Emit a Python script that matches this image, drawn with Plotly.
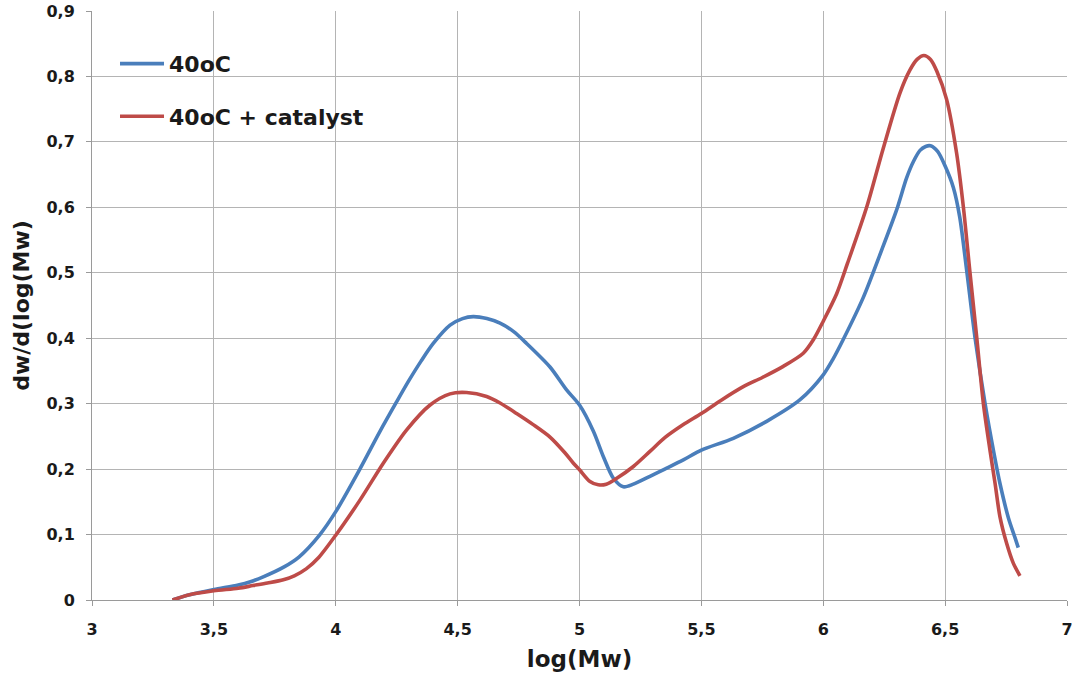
import plotly.graph_objects as go

# 40oC
x_blue = [3.33, 3.40, 3.50, 3.60, 3.65, 3.70, 3.79, 3.85, 3.935, 4.0, 4.099, 4.182, 4.25,
          4.298, 4.35, 4.40, 4.469, 4.52, 4.564, 4.62, 4.674, 4.73, 4.783, 4.879,
          4.947, 5.0, 5.057, 5.098, 5.139, 5.18, 5.221, 5.289, 5.35, 5.426, 5.5, 5.631,
          5.768, 5.905, 6.0, 6.04, 6.082, 6.164, 6.24, 6.301, 6.342, 6.37, 6.397, 6.42, 6.44,
          6.47, 6.50, 6.534, 6.56, 6.588, 6.623, 6.664, 6.70, 6.725, 6.76, 6.787, 6.80]
y_blue = [0.0, 0.008, 0.016, 0.023, 0.028, 0.035, 0.051, 0.066, 0.100, 0.135, 0.200, 0.258, 0.303,
          0.334, 0.365, 0.392, 0.420, 0.430, 0.433, 0.430, 0.423, 0.410, 0.392, 0.356,
          0.321, 0.298, 0.258, 0.219, 0.186, 0.173, 0.177, 0.189, 0.200, 0.214, 0.229, 0.247,
          0.273, 0.306, 0.344, 0.368, 0.398, 0.462, 0.535, 0.596, 0.645, 0.670, 0.687, 0.693, 0.694,
          0.685, 0.663, 0.630, 0.585, 0.505, 0.400, 0.300, 0.225, 0.178, 0.125, 0.095, 0.080]

# 40oC + catalyst
x_red = [3.33, 3.40, 3.50, 3.60, 3.66, 3.72, 3.785, 3.83, 3.88, 3.93, 4.0, 4.1, 4.195,
         4.291, 4.387, 4.469, 4.537, 4.619, 4.674, 4.742, 4.81, 4.879, 4.94,
         4.975, 5.0, 5.043, 5.077, 5.11, 5.153, 5.221, 5.289, 5.35, 5.426, 5.5, 5.58,
         5.672, 5.75, 5.836, 5.918, 5.96, 6.0, 6.055, 6.10, 6.178, 6.246, 6.315,
         6.356, 6.385, 6.413, 6.44, 6.466, 6.506, 6.547, 6.575, 6.602, 6.630, 6.657, 6.684, 6.705,
         6.725, 6.752, 6.78, 6.807]
y_red = [0.0, 0.008, 0.014, 0.018, 0.022, 0.026, 0.031, 0.037, 0.048, 0.065, 0.099, 0.153, 0.209,
         0.260, 0.298, 0.315, 0.317, 0.311, 0.301, 0.285, 0.268, 0.249, 0.225,
         0.209, 0.199, 0.181, 0.176, 0.177, 0.186, 0.204, 0.227, 0.248, 0.268, 0.285, 0.305,
         0.326, 0.340, 0.357, 0.377, 0.398, 0.426, 0.468, 0.515, 0.600, 0.690, 0.775,
         0.810, 0.826, 0.832, 0.826, 0.808, 0.765, 0.683, 0.600, 0.500, 0.400, 0.300, 0.229, 0.178,
         0.127, 0.087, 0.056, 0.037]

x_tickvals = [3, 3.5, 4, 4.5, 5, 5.5, 6, 6.5, 7]
x_ticktext = ["3", "3,5", "4", "4,5", "5", "5,5", "6", "6,5", "7"]
y_tickvals = [0, 0.1, 0.2, 0.3, 0.4, 0.5, 0.6, 0.7, 0.8, 0.9]
y_ticktext = ["0", "0,1", "0,2", "0,3", "0,4", "0,5", "0,6", "0,7", "0,8", "0,9"]

BLUE = "#4a7ebb"
RED = "#be4b48"
FONT = "DejaVu Sans"
TXT = "#1a1a1a"

fig = go.Figure()
fig.add_trace(go.Scatter(x=x_blue, y=y_blue, mode="lines", name="40oC",
                         line=dict(color=BLUE, width=3.6, shape="spline", smoothing=0.8),
                         legendgroup="a"))
fig.add_trace(go.Scatter(x=x_red, y=y_red, mode="lines", name="40oC + catalyst",
                         line=dict(color=RED, width=3.6, shape="spline", smoothing=0.8),
                         legendgroup="b"))

fig.update_layout(
    width=1075, height=677,
    margin=dict(l=92, r=8, t=11, b=77),
    paper_bgcolor="white", plot_bgcolor="white",
    font=dict(family=FONT, color=TXT),
    showlegend=True,
    legend=dict(x=0.0236, y=0.946, xanchor="left", yanchor="top",
                bgcolor="rgba(0,0,0,0)", traceorder="grouped", tracegroupgap=21,
                itemwidth=44,
                font=dict(family=FONT, size=22, color=TXT, weight="bold")),
    xaxis=dict(range=[3, 7], tickvals=x_tickvals, ticktext=x_ticktext,
               showgrid=True, gridcolor="#b4b4b4", gridwidth=1,
               showline=True, linecolor="#9a9a9a", linewidth=1,
               ticks="outside", ticklen=5, tickcolor="#9a9a9a",
               tickfont=dict(family=FONT, size=16, weight="bold", color=TXT),
               ticklabelstandoff=10, zeroline=False, automargin=False,
               title=dict(text="log(Mw)", font=dict(family=FONT, size=23, weight="bold", color=TXT),
                          standoff=12)),
    yaxis=dict(range=[0, 0.9], tickvals=y_tickvals, ticktext=y_ticktext,
               showgrid=True, gridcolor="#b4b4b4", gridwidth=1,
               showline=True, linecolor="#9a9a9a", linewidth=1,
               ticks="outside", ticklen=5, tickcolor="#9a9a9a",
               tickfont=dict(family=FONT, size=16, weight="bold", color=TXT),
               ticklabelstandoff=8, zeroline=False, automargin=False,
               title=dict(text="dw/d(log(Mw)", font=dict(family=FONT, size=22, weight="bold", color=TXT),
                          standoff=10)),
)

fig.write_html("out.html", config={"displayModeBar": False},
               post_script="document.body.style.margin='0px';")
